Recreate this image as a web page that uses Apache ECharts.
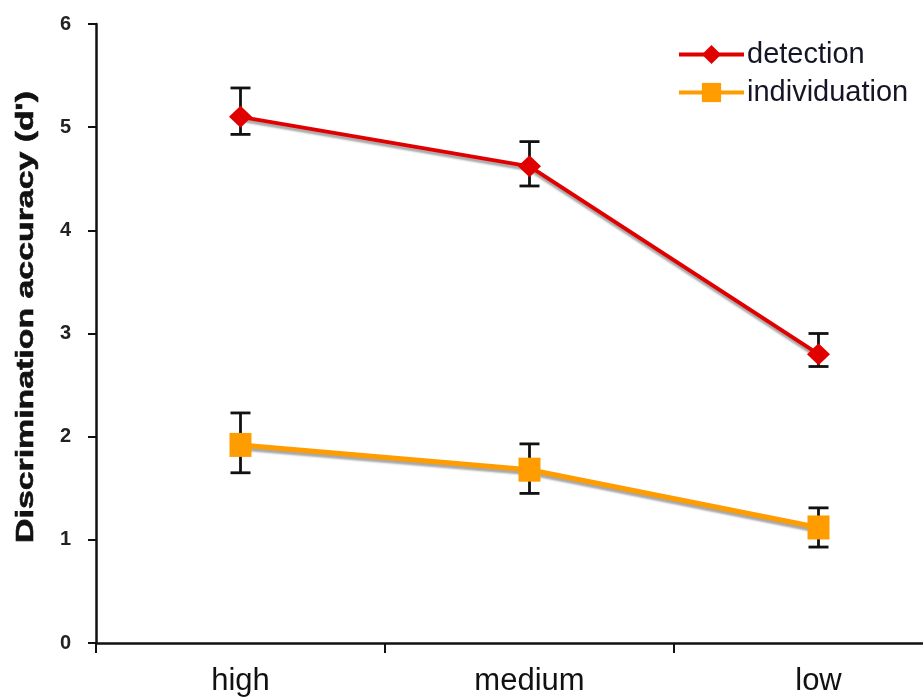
<!DOCTYPE html>
<html>
<head>
<meta charset="utf-8">
<script src="https://cdn.jsdelivr.net/npm/echarts@6/dist/echarts.min.js"></script>
<style>html,body{margin:0;padding:0;background:#fff;}#c{width:923px;height:698px;}</style>
</head>
<body>
<div id="c"></div>
<script>
const categories = ['high', 'medium', 'low'];
const yTicks = [0, 1, 2, 3, 4, 5, 6];
const detection = [5.1, 4.62, 2.8];
const detectionLow = [4.93, 4.43, 2.68];
const detectionHigh = [5.38, 4.86, 3.0];
const individuation = [1.92, 1.68, 1.12];
const individuationLow = [1.65, 1.45, 0.93];
const individuationHigh = [2.23, 1.93, 1.31];

const chart = echarts.init(document.getElementById('c'));

function errData(lo, hi) {
  return categories.map((c, i) => [i, lo[i], hi[i]]);
}
function errRender(params, api) {
  const x = api.value(0);
  const p1 = api.coord([x, api.value(1)]);
  const p2 = api.coord([x, api.value(2)]);
  const w = 10;
  const st = { stroke: '#111', lineWidth: 2.8 };
  return {
    type: 'group',
    children: [
      { type: 'line', shape: { x1: p1[0], y1: p1[1], x2: p2[0], y2: p2[1] }, style: st },
      { type: 'line', shape: { x1: p1[0] - w, y1: p1[1], x2: p1[0] + w, y2: p1[1] }, style: st },
      { type: 'line', shape: { x1: p2[0] - w, y1: p2[1], x2: p2[0] + w, y2: p2[1] }, style: st }
    ]
  };
}

chart.setOption({
  animation: false,
  backgroundColor: '#fff',
  textStyle: { fontFamily: 'Liberation Sans, Arial, sans-serif' },
  grid: { left: 96, top: 24, right: -40, bottom: 55, outerBoundsMode: 'none', containLabel: false },
  legend: {
    orient: 'vertical',
    left: 672,
    top: 35,
    itemWidth: 65,
    itemHeight: 24,
    itemGap: 9,
    lineStyle: { width: 4 },
    textStyle: { fontSize: 29, color: '#151525', padding: [0, 0, 0, -2] },
    data: ['detection', 'individuation']
  },
  graphic: [{
    type: 'text',
    x: 26,
    y: 317,
    rotation: Math.PI / 2,
    scaleX: 1.41,
    style: {
      text: "Discrimination accuracy (d')",
      font: 'bold 24px "Liberation Sans", Arial, sans-serif',
      fill: '#111',
      stroke: '#111',
      lineWidth: 0.6,
      align: 'center',
      verticalAlign: 'middle'
    }
  }],
  xAxis: {
    type: 'category',
    data: categories,
    boundaryGap: true,
    axisLine: { lineStyle: { color: '#111', width: 2.5 } },
    axisTick: { show: true, length: 10, lineStyle: { color: '#111', width: 2 } },
    axisLabel: { fontSize: 31, color: '#111', margin: 23 },
    splitLine: { show: false }
  },
  yAxis: {
    type: 'value',
    min: yTicks[0],
    max: yTicks[yTicks.length - 1],
    interval: 1,
    axisLine: { show: true, lineStyle: { color: '#111', width: 2.5 } },
    axisTick: { show: true, length: 8, lineStyle: { color: '#111', width: 2 } },
    axisLabel: { fontSize: 20, fontWeight: 'bold', color: '#222', margin: 25 },
    splitLine: { show: false }
  },
  series: [
    {
      name: 'detection-err',
      type: 'custom',
      renderItem: errRender,
      data: errData(detectionLow, detectionHigh),
      encode: { x: 0, y: [1, 2] },
      z: 1
    },
    {
      name: 'individuation-err',
      type: 'custom',
      renderItem: errRender,
      data: errData(individuationLow, individuationHigh),
      encode: { x: 0, y: [1, 2] },
      z: 1
    },
    {
      name: 'detection',
      type: 'line',
      data: detection,
      symbol: 'diamond',
      symbolSize: [23, 22],
      itemStyle: { color: '#e00000' },
      lineStyle: { color: '#e00000', width: 4, shadowColor: 'rgba(60,60,60,0.45)', shadowBlur: 2, shadowOffsetY: 3 },
      z: 3
    },
    {
      name: 'individuation',
      type: 'line',
      data: individuation,
      symbol: 'rect',
      symbolSize: [22, 24],
      itemStyle: { color: '#ff9c00' },
      lineStyle: { color: '#ff9c00', width: 5, shadowColor: 'rgba(60,60,60,0.45)', shadowBlur: 2, shadowOffsetY: 3 },
      z: 3
    }
  ]
});
</script>
</body>
</html>
